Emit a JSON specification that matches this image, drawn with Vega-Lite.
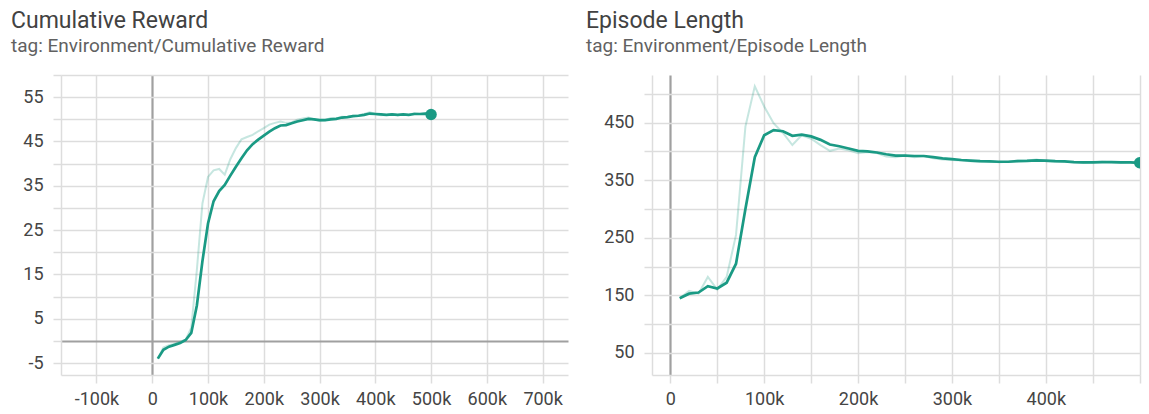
{
  "$schema": "https://vega.github.io/schema/vega-lite/v6.json",
  "background": "white",
  "padding": {"left": 11, "top": 10, "right": 0, "bottom": 0},
  "spacing": 18,
  "config": {
    "view": {"stroke": null},
    "font": "Roboto",
    "axis": {
      "labelFont": "Roboto",
      "labelFontSize": 18,
      "labelColor": "#454545",
      "gridColor": "#dddddd",
      "tickColor": "#dddddd",
      "domainColor": "#dddddd",
      "gridWidth": 1.5,
      "tickWidth": 1.5,
      "domainWidth": 1.5,
      "tickSize": 8,
      "labelOverlap": false,
      "title": null
    },
    "title": {
      "font": "Roboto",
      "fontSize": 23,
      "fontWeight": "normal",
      "color": "#424242",
      "subtitleFont": "Roboto",
      "subtitleFontSize": 19,
      "subtitleColor": "#616161",
      "anchor": "start",
      "frame": "group",
      "subtitlePadding": 4
    }
  },
  "datasets": {
    "reward": [
      {"step": 10000, "raw": -4.0, "smoothed": -4.0},
      {"step": 20000, "raw": -1.5, "smoothed": -2.0},
      {"step": 30000, "raw": -1.0, "smoothed": -1.3},
      {"step": 40000, "raw": -0.7, "smoothed": -0.9},
      {"step": 50000, "raw": -0.2, "smoothed": -0.5},
      {"step": 60000, "raw": 0.3, "smoothed": 0.2},
      {"step": 70000, "raw": 3.0, "smoothed": 1.8},
      {"step": 80000, "raw": 16.0, "smoothed": 8.0},
      {"step": 90000, "raw": 31.0, "smoothed": 18.0},
      {"step": 100000, "raw": 37.0, "smoothed": 26.5},
      {"step": 110000, "raw": 38.5, "smoothed": 31.5},
      {"step": 120000, "raw": 38.8, "smoothed": 33.8},
      {"step": 130000, "raw": 37.5, "smoothed": 35.2},
      {"step": 140000, "raw": 41.0, "smoothed": 37.3},
      {"step": 150000, "raw": 43.5, "smoothed": 39.3},
      {"step": 160000, "raw": 45.5, "smoothed": 41.2},
      {"step": 170000, "raw": 46.0, "smoothed": 43.0},
      {"step": 180000, "raw": 46.5, "smoothed": 44.4},
      {"step": 190000, "raw": 47.3, "smoothed": 45.4},
      {"step": 200000, "raw": 48.0, "smoothed": 46.3},
      {"step": 210000, "raw": 48.8, "smoothed": 47.2},
      {"step": 220000, "raw": 49.2, "smoothed": 48.0},
      {"step": 230000, "raw": 49.5, "smoothed": 48.6},
      {"step": 240000, "raw": 49.2, "smoothed": 48.7},
      {"step": 250000, "raw": 49.3, "smoothed": 49.1},
      {"step": 260000, "raw": 49.9, "smoothed": 49.5},
      {"step": 270000, "raw": 50.2, "smoothed": 49.8},
      {"step": 280000, "raw": 50.4, "smoothed": 50.1},
      {"step": 290000, "raw": 50.0, "smoothed": 50.0},
      {"step": 300000, "raw": 49.6, "smoothed": 49.8},
      {"step": 310000, "raw": 49.8, "smoothed": 49.8},
      {"step": 320000, "raw": 50.3, "smoothed": 50.0},
      {"step": 330000, "raw": 50.2, "smoothed": 50.1},
      {"step": 340000, "raw": 50.6, "smoothed": 50.4},
      {"step": 350000, "raw": 50.5, "smoothed": 50.5},
      {"step": 360000, "raw": 50.8, "smoothed": 50.7},
      {"step": 370000, "raw": 50.9, "smoothed": 50.8},
      {"step": 380000, "raw": 51.2, "smoothed": 51.0},
      {"step": 390000, "raw": 51.6, "smoothed": 51.3},
      {"step": 400000, "raw": 51.2, "smoothed": 51.2},
      {"step": 410000, "raw": 50.9, "smoothed": 51.1},
      {"step": 420000, "raw": 51.0, "smoothed": 51.0},
      {"step": 430000, "raw": 51.2, "smoothed": 51.1},
      {"step": 440000, "raw": 50.9, "smoothed": 51.0},
      {"step": 450000, "raw": 51.1, "smoothed": 51.1},
      {"step": 460000, "raw": 51.0, "smoothed": 51.0},
      {"step": 470000, "raw": 51.4, "smoothed": 51.2},
      {"step": 480000, "raw": 51.2, "smoothed": 51.2},
      {"step": 490000, "raw": 51.3, "smoothed": 51.3},
      {"step": 500000, "raw": 51.1, "smoothed": 51.1}
    ],
    "length": [
      {"step": 10000, "raw": 145, "smoothed": 145},
      {"step": 20000, "raw": 158, "smoothed": 153},
      {"step": 30000, "raw": 153, "smoothed": 155},
      {"step": 40000, "raw": 182, "smoothed": 166},
      {"step": 50000, "raw": 160, "smoothed": 162},
      {"step": 60000, "raw": 182, "smoothed": 172},
      {"step": 70000, "raw": 255, "smoothed": 205},
      {"step": 80000, "raw": 443, "smoothed": 300},
      {"step": 90000, "raw": 513, "smoothed": 390},
      {"step": 100000, "raw": 478, "smoothed": 428},
      {"step": 110000, "raw": 449, "smoothed": 437},
      {"step": 120000, "raw": 432, "smoothed": 435},
      {"step": 130000, "raw": 411, "smoothed": 427},
      {"step": 140000, "raw": 428, "smoothed": 429},
      {"step": 150000, "raw": 422, "smoothed": 426},
      {"step": 160000, "raw": 411, "smoothed": 420},
      {"step": 170000, "raw": 401, "smoothed": 412},
      {"step": 180000, "raw": 405, "smoothed": 409},
      {"step": 190000, "raw": 402, "smoothed": 405},
      {"step": 200000, "raw": 397, "smoothed": 401},
      {"step": 210000, "raw": 399, "smoothed": 400},
      {"step": 220000, "raw": 397, "smoothed": 398},
      {"step": 230000, "raw": 391, "smoothed": 395},
      {"step": 240000, "raw": 390, "smoothed": 392.5},
      {"step": 250000, "raw": 393, "smoothed": 392.5},
      {"step": 260000, "raw": 390, "smoothed": 392},
      {"step": 270000, "raw": 392, "smoothed": 392},
      {"step": 280000, "raw": 388, "smoothed": 390},
      {"step": 290000, "raw": 386, "smoothed": 388},
      {"step": 300000, "raw": 385, "smoothed": 386.5},
      {"step": 310000, "raw": 384, "smoothed": 385},
      {"step": 320000, "raw": 383, "smoothed": 384},
      {"step": 330000, "raw": 382, "smoothed": 383},
      {"step": 340000, "raw": 383, "smoothed": 382.5},
      {"step": 350000, "raw": 381, "smoothed": 382},
      {"step": 360000, "raw": 382, "smoothed": 382},
      {"step": 370000, "raw": 384, "smoothed": 383},
      {"step": 380000, "raw": 384, "smoothed": 383.5},
      {"step": 390000, "raw": 386, "smoothed": 384.5},
      {"step": 400000, "raw": 383, "smoothed": 384},
      {"step": 410000, "raw": 382, "smoothed": 383},
      {"step": 420000, "raw": 382, "smoothed": 382.5},
      {"step": 430000, "raw": 381, "smoothed": 381.5},
      {"step": 440000, "raw": 380, "smoothed": 381},
      {"step": 450000, "raw": 381, "smoothed": 381},
      {"step": 460000, "raw": 382, "smoothed": 381.5},
      {"step": 470000, "raw": 381, "smoothed": 381.5},
      {"step": 480000, "raw": 380, "smoothed": 381},
      {"step": 490000, "raw": 381, "smoothed": 381},
      {"step": 500000, "raw": 380, "smoothed": 380.2}
    ]
  },
  "hconcat": [
    {
      "width": 507,
      "height": 300,
      "title": {
        "text": "Cumulative Reward",
        "subtitle": "tag: Environment/Cumulative Reward",
        "dx": -50,
        "offset": 10
      },
      "data": {"name": "reward"},
      "encoding": {
        "x": {
          "field": "step",
          "type": "quantitative",
          "scale": {"domain": [-163600, 745500], "nice": false, "zero": false},
          "axis": {
            "values": [-100000, 0, 100000, 200000, 300000, 400000, 500000, 600000, 700000],
            "labelExpr": "datum.value == 0 ? '0' : (datum.value / 1000) + 'k'",
            "grid": true,
            "gridColor": {"condition": {"test": "datum.value == 0", "value": "#a0a0a0"}, "value": "#dddddd"},
            "gridWidth": {"condition": {"test": "datum.value == 0", "value": 2.2}, "value": 1.5},
            "labelPadding": 7
          }
        },
        "y": {
          "field": "smoothed",
          "type": "quantitative",
          "scale": {"domain": [-7.7, 60], "nice": false, "zero": false},
          "axis": {
            "values": [-5, 0, 5, 10, 15, 20, 25, 30, 35, 40, 45, 50, 55, 60],
            "labelExpr": "(datum.value % 10 == 5 || datum.value % 10 == -5) ? ('' + datum.value) : ''",
            "grid": true,
            "gridColor": {"condition": {"test": "datum.value == 0", "value": "#a0a0a0"}, "value": "#dddddd"},
            "gridWidth": {"condition": {"test": "datum.value == 0", "value": 2.2}, "value": 1.5},
            "labelPadding": 10
          }
        }
      },
      "layer": [
        {
          "mark": {"type": "line", "color": "#1a9a84", "opacity": 0.25, "strokeWidth": 2},
          "encoding": {
            "y": {
              "field": "raw",
              "type": "quantitative",
              "scale": {"domain": [-7.7, 60], "nice": false, "zero": false},
              "axis": {
                "values": [-5, 0, 5, 10, 15, 20, 25, 30, 35, 40, 45, 50, 55, 60],
                "labelExpr": "(datum.value % 10 == 5 || datum.value % 10 == -5) ? ('' + datum.value) : ''",
                "grid": true,
                "gridColor": {"condition": {"test": "datum.value == 0", "value": "#a0a0a0"}, "value": "#dddddd"},
                "gridWidth": {"condition": {"test": "datum.value == 0", "value": 2.2}, "value": 1.5},
                "labelPadding": 10
              }
            }
          }
        },
        {
          "mark": {"type": "line", "color": "#1a9a84", "strokeWidth": 2.7}
        },
        {
          "transform": [{"filter": "datum.step == 500000"}],
          "mark": {"type": "point", "filled": true, "color": "#1a9a84", "opacity": 1, "size": 130}
        }
      ]
    },
    {
      "width": 488,
      "height": 300,
      "title": {
        "text": "Episode Length",
        "subtitle": "tag: Environment/Episode Length",
        "dx": -66,
        "offset": 19
      },
      "data": {"name": "length"},
      "encoding": {
        "x": {
          "field": "step",
          "type": "quantitative",
          "scale": {"domain": [-19500, 500300], "nice": false, "zero": false},
          "axis": {
            "values": [0, 50000, 100000, 150000, 200000, 250000, 300000, 350000, 400000, 450000, 500000],
            "labelExpr": "(datum.value % 100000 == 0 && datum.value < 500000) ? (datum.value == 0 ? '0' : (datum.value / 1000) + 'k') : ''",
            "grid": true,
            "gridColor": {"condition": {"test": "datum.value == 0", "value": "#a0a0a0"}, "value": "#dddddd"},
            "gridWidth": {"condition": {"test": "datum.value == 0", "value": 2.2}, "value": 1.5},
            "labelPadding": 7
          }
        },
        "y": {
          "field": "smoothed",
          "type": "quantitative",
          "scale": {"domain": [11.8, 532.6], "nice": false, "zero": false},
          "axis": {
            "values": [50, 100, 150, 200, 250, 300, 350, 400, 450, 500],
            "labelExpr": "datum.value % 100 == 50 ? ('' + datum.value) : ''",
            "grid": true,
            "labelPadding": 10
          }
        }
      },
      "layer": [
        {
          "mark": {"type": "line", "color": "#1a9a84", "opacity": 0.25, "strokeWidth": 2},
          "encoding": {
            "y": {
              "field": "raw",
              "type": "quantitative",
              "scale": {"domain": [11.8, 532.6], "nice": false, "zero": false},
              "axis": {
                "values": [50, 100, 150, 200, 250, 300, 350, 400, 450, 500],
                "labelExpr": "datum.value % 100 == 50 ? ('' + datum.value) : ''",
                "grid": true,
                "labelPadding": 10
              }
            }
          }
        },
        {
          "mark": {"type": "line", "color": "#1a9a84", "strokeWidth": 2.7}
        },
        {
          "transform": [{"filter": "datum.step == 500000"}],
          "mark": {"type": "point", "filled": true, "color": "#1a9a84", "opacity": 1, "size": 130, "clip": true}
        }
      ]
    }
  ]
}
